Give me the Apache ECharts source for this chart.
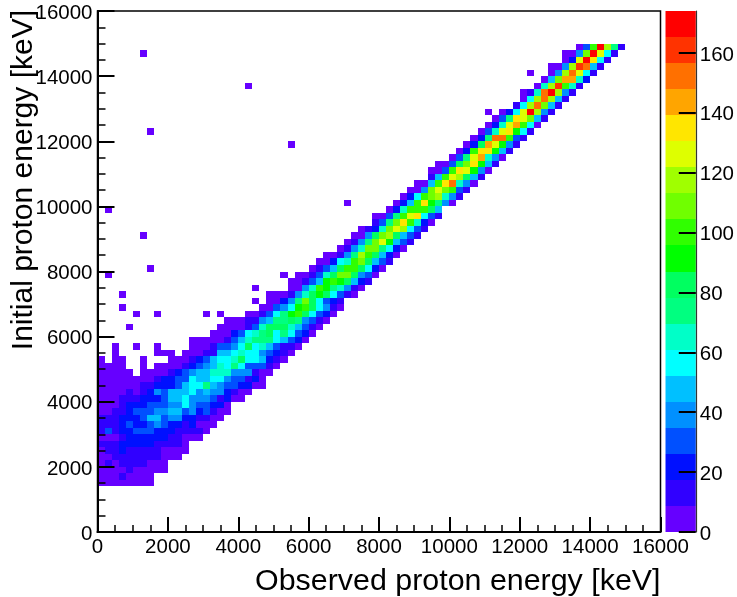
<!DOCTYPE html>
<html><head><meta charset="utf-8">
<style>html,body{margin:0;padding:0;background:#fff}#c{width:737px;height:597px}</style>
<script src="https://cdn.jsdelivr.net/npm/echarts@6/dist/echarts.min.js"></script>
</head><body><div id="c"></div>
<script>
const xTitle = "Observed proton energy [keV]";
const yTitle = "Initial proton energy [keV]";
const binWidth = 200;
const colourBandTop = 174;
const zTicks = [0,20,40,60,80,100,120,140,160];
const bandColours = ["#6600ff","#3000ff","#0010ff","#0050ff","#0090ff","#00c0ff","#00ffff","#00ffc8","#00ff80","#00ff60",
  "#00ff00","#30ff00","#70ff00","#a0ff00","#deff00","#ffe600","#ffa500","#ff7000","#ff3300","#ff0000"];
// counts, as mid-band values of the 20 colour bands
const bandCounts = [4,13,22,30,39,48,57,65,74,83,91,100,109,118,126,135,144,152,161,170];
// [y bin, first x bin, band index of each successive bin]
const binRows = [
[74,68,[0,3,11,19,13,8,1]],
[73,6,[0]],[73,66,[0,0,4,12,19,14,6,1]],
[72,66,[0,2,14,19,15,6,1]],
[71,64,[0,0,4,13,18,17,5,1]],
[70,61,[0]],[70,64,[0,4,13,17,14,6,1]],
[69,63,[0,5,12,16,16,7,2]],
[68,21,[0]],[68,62,[0,7,13,18,11,7,1]],
[67,60,[0,1,7,17,19,13,4,1]],
[66,60,[0,6,13,17,13,5,1]],
[65,59,[1,6,13,17,12,5,1]],
[64,55,[0]],[64,57,[0,2,6,14,19,13,4,1]],
[63,56,[0,3,8,15,14,12,5,1]],
[62,55,[0,2,7,14,16,11,6,0]],
[61,7,[0]],[61,54,[0,3,7,14,15,10,6,1]],
[60,53,[0,2,8,17,17,11,3,1]],
[59,27,[0]],[59,52,[0,2,9,16,14,10,4,1]],
[58,51,[0,2,11,15,15,10,5,1]],
[57,50,[0,3,8,14,16,7,4,0]],
[56,48,[0,0,3,9,12,15,10,5,1]],
[55,47,[0,0,3,11,15,14,10,4,0]],
[54,47,[1,5,11,14,13,9,5,1]],
[53,45,[0,0,5,11,15,17,7,4,0]],
[52,44,[0,0,4,12,14,12,11,3,1]],
[51,43,[0,2,6,11,12,13,7,4,1]],
[50,35,[0]],[50,42,[0,2,5,11,15,10,8,4,0]],
[49,1,[0]],[49,41,[0,2,7,11,11,11,9,5]],
[48,39,[0,0,3,8,11,14,15,6,3,1]],
[47,39,[1,3,8,12,15,11,7,2,0]],
[46,37,[0,1,2,7,12,14,13,6,3,1]],
[45,6,[0]],[45,36,[0,0,4,9,12,13,9,5,3,1]],
[44,35,[0,1,4,8,12,14,10,5,3,1]],
[43,34,[0,1,4,7,12,12,8,6,2,0]],
[42,32,[0,0,1,4,8,13,11,9,5,2,0]],
[41,31,[0,0,2,6,7,11,12,9,5,3,1]],
[40,7,[0]],[40,30,[0,1,3,5,9,11,11,9,6,2,0]],
[39,1,[0]],[39,26,[0]],[39,28,[0,0,1,3,7,9,12,12,9,4,3,0]],
[38,27,[0,0,1,3,5,10,11,10,9,5,2,1]],
[37,22,[0]],[37,27,[0,0,4,7,11,10,8,7,4,1,0]],
[36,3,[0]],[36,24,[0,0,0,1,4,7,9,10,9,6,3,1,0]],
[35,22,[0]],[35,24,[0,0,2,4,8,12,9,6,3,2,1]],
[34,3,[0]],[34,23,[0,0,3,4,6,10,11,9,6,4,1,0]],
[33,5,[0]],[33,8,[0]],[33,15,[0]],[33,17,[0]],[33,21,[0,0,1,3,6,8,10,11,9,6,3,2,0]],
[32,18,[0,0,0,1,1,4,5,8,8,9,8,4,3,1,0]],
[31,4,[0]],[31,17,[0,0,0,0,1,3,7,9,9,9,7,5,3,1,0]],
[30,16,[0,0,0,2,3,6,7,8,9,6,8,6,3,2,0]],
[29,13,[0,0,0,0,0,1,3,5,7,8,8,8,6,5,3,2,0]],
[28,2,[0]],[28,5,[0]],[28,8,[0]],[28,13,[0,0,0,1,3,3,4,6,9,6,7,5,3,1,1,0]],
[27,2,[0]],[27,8,[0,0,0]],[27,12,[0,0,0,1,1,5,5,6,7,6,6,4,3,2,1,0]],
[26,0,[0]],[26,2,[0,0]],[26,6,[0]],[26,10,[0,0,0,1,2,3,5,6,6,7,9,6,6,5,2,1,0]],
[25,0,[0,0,0,0]],[25,6,[0]],[25,8,[0,0,0,0,1,2,3,4,5,7,6,8,6,3,3,3,1,0]],
[24,0,[0,0,0,0,0]],[24,6,[0,0,0,0,1,2,3,4,5,5,7,7,7,4,4,4,1,0,0]],
[23,0,[0,0,0,0,0,0,0,0,1,2,2,3,3,6,5,5,6,6,4,3,3,1,2,0]],
[22,0,[0,0,0,0,0,0,1,1,2,2,2,3,5,6,6,8,5,4,3,3,2,2,0,0]],
[21,0,[0,0,0,0,1,0,1,2,4,3,5,5,5,6,4,5,4,4,2,1,0,0]],
[20,0,[0,0,0,1,1,1,2,2,2,3,5,5,6,4,4,4,3,1,2,0,0]],
[19,0,[0,0,0,1,2,2,2,3,3,3,4,4,6,4,3,3,2,2,0]],
[18,0,[0,0,1,1,2,3,3,3,4,4,5,5,3,4,2,3,1,0,0]],
[17,0,[1,1,1,2,2,2,3,5,5,3,4,4,2,2,1,1,0,0]],
[16,0,[1,1,1,2,3,2,2,3,4,3,2,2,1,2,0,0,0]],
[15,0,[1,3,1,2,2,3,3,3,2,2,2,1,1,1,1,0]],
[14,0,[0,0,0,1,2,2,2,2,2,2,1,1,0,0,0]],
[13,0,[1,1,1,2,2,2,2,2,1,1,1,1,0]],
[12,0,[0,1,1,2,1,1,1,1,1,0,0,0,0]],
[11,0,[0,0,1,1,1,1,1,1,1,0,0,0]],
[10,0,[0,1,0,1,1,1,1,0,0,0]],
[9,0,[0,0,0,0,1,0,0,0,0,0]],
[8,0,[0,0,0,1,0,0,0,0]],
[7,0,[0,0,0,0,0,0,0,0]]
];

const cells = [];
binRows.forEach(([yb, xs, lv]) => lv.forEach((b, k) => cells.push([(xs + k) * binWidth, yb * binWidth, bandCounts[b], b])));
const bandStep = colourBandTop / bandColours.length;
const bands = bandColours.map((c, k) => [k * bandStep, (k + 1) * bandStep, k]);

const font = "Liberation Sans";
const tickStyle = {color:"#000", fontFamily:font, fontSize:20.5};
const line = {lineStyle:{color:"#000", width:2}};
const plain = v => String(v);

const chart = echarts.init(document.getElementById("c"), null, {renderer:"canvas"});
chart.setOption({
  animation:false,
  backgroundColor:"#fff",
  grid:[
    {left:97.5, top:11, width:563, height:521, show:true, borderColor:"#000", borderWidth:1.5, backgroundColor:"transparent", containLabel:false},
    {left:665.5, top:11, width:32, height:521, show:false, containLabel:false}
  ],
  xAxis:[
    {gridIndex:0, type:"value", min:0, max:16000, interval:2000, z:6, splitLine:{show:false},
     axisLine:{show:true, onZero:false, ...line}, axisTick:{show:true, inside:true, length:15, ...line},
     minorTick:{show:true, splitNumber:4, length:7, lineStyle:{color:"#000", width:1.5}},
     axisLabel:{...tickStyle, margin:5, formatter:plain, showMinLabel:true, showMaxLabel:true, hideOverlap:false},
     name:xTitle, nameLocation:"end", nameGap:0, nameMoveOverlap:false,
     nameTextStyle:{color:"#000", fontFamily:font, fontSize:30.4, align:"right", verticalAlign:"top", padding:[35,0,0,0]}},
    {gridIndex:1, type:"value", min:0, max:1, show:false}
  ],
  yAxis:[
    {gridIndex:0, type:"value", min:0, max:16000, interval:2000, z:6, splitLine:{show:false},
     axisLine:{show:true, onZero:false, ...line}, axisTick:{show:true, inside:true, length:17, ...line},
     minorTick:{show:true, splitNumber:4, length:8, lineStyle:{color:"#000", width:1.5}},
     axisLabel:{...tickStyle, margin:5, verticalAlign:"top", lineHeight:4, formatter:plain, showMinLabel:true, showMaxLabel:true, hideOverlap:false},
     name:yTitle, nameLocation:"end", nameRotate:90, nameGap:1, nameMoveOverlap:false,
     nameTextStyle:{color:"#000", fontFamily:font, fontSize:30, align:"right", verticalAlign:"bottom", padding:[0,0,59,0]}},
    {gridIndex:1, type:"value", min:0, max:colourBandTop, position:"right", z:6, splitLine:{show:false},
     axisLine:{show:true, onZero:false, lineStyle:{color:"#333", width:1.2}},
     axisTick:{show:true, inside:true, length:17, customValues:zTicks, ...line},
     axisLabel:{...tickStyle, margin:4, verticalAlign:"top", lineHeight:4, customValues:zTicks, formatter:plain}}
  ],
  series:[
    {type:"custom", xAxisIndex:0, yAxisIndex:0, data:cells, clip:false, silent:true,
     encode:{x:0,y:1},
     renderItem:(p,api)=>{
       const x=api.value(0), y=api.value(1), b=api.value(3);
       const a=api.coord([x,y]), d=api.coord([x+binWidth,y+binWidth]);
       const x0=Math.round(a[0]), x1=Math.round(d[0]), y1=Math.round(a[1]), y0=Math.round(d[1]);
       return {type:"rect", shape:{x:x0,y:y0,width:x1-x0,height:y1-y0}, style:{fill:bandColours[b]}};
     }},
    {type:"custom", xAxisIndex:1, yAxisIndex:1, data:bands, clip:false, silent:true,
     encode:{y:[0,1]},
     renderItem:(p,api)=>{
       const a=api.coord([0,api.value(0)]), d=api.coord([1,api.value(1)]);
       const y1=Math.round(a[1]), y0=Math.round(d[1]);
       return {type:"rect", shape:{x:a[0],y:y0,width:d[0]-a[0],height:y1-y0}, style:{fill:bandColours[api.value(2)]}};
     }}
  ]
});
</script></body></html>
